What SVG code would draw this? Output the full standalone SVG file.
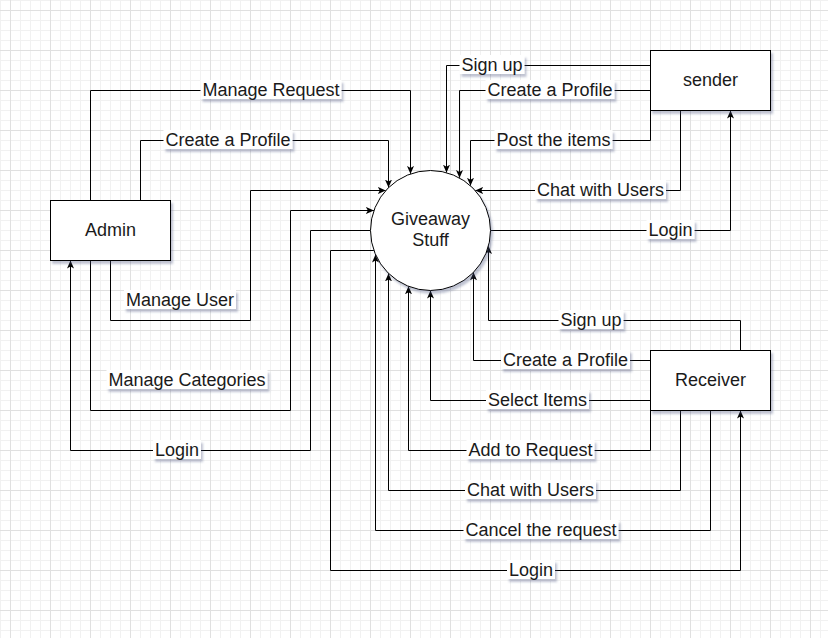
<svg xmlns="http://www.w3.org/2000/svg" width="828" height="638" viewBox="0 0 828 638">
<defs>
<pattern id="grid" x="10" y="10" width="40" height="40" patternUnits="userSpaceOnUse">
<path d="M10.5,0V40M20.5,0V40M30.5,0V40M0,10.5H40M0,20.5H40M0,30.5H40" stroke="#f1f1f1" stroke-width="1" fill="none"/>
<path d="M0.5,0V40M0,0.5H40" stroke="#e0e0e0" stroke-width="1" fill="none"/>
</pattern>
<marker id="arr" viewBox="0 0 8 8" refX="8" refY="4" markerWidth="8" markerHeight="8" markerUnits="userSpaceOnUse" orient="auto">
<path d="M0,0.5 L8,4 L0,7.5 L2,4 Z" fill="#000"/>
</marker>
<filter id="shadow" x="-10%" y="-20%" width="130%" height="160%">
<feDropShadow dx="2" dy="3" stdDeviation="1.2" flood-color="#4a5680" flood-opacity="0.35"/>
</filter>
<style>
.edge{fill:none;stroke:#000;stroke-width:1;marker-end:url(#arr)}
.lbg{fill:#fff;filter:url(#shadow)}
.lt{font-family:"Liberation Sans",Arial,sans-serif;font-size:18px;fill:#1a1a1a;text-anchor:middle}
.node{fill:#fff;stroke:#000;stroke-width:1;filter:url(#shadow)}
</style>
</defs>
<rect width="828" height="638" fill="#fff"/>
<rect width="828" height="638" fill="url(#grid)"/>

<g id="connectors">
<g id="e-manage-request">
<path class="edge" d="M90.5,200.5V90.5H410.5V173.9"/>
<rect class="lbg" x="200.5" y="80" width="141" height="19"/>
<text class="lt" x="271" y="95.5">Manage Request</text>
</g>
<g id="e-admin-create-profile">
<path class="edge" d="M140.5,200.5V140.5H388.5V187.6"/>
<rect class="lbg" x="163.5" y="130" width="129" height="19"/>
<text class="lt" x="228" y="145.5">Create a Profile</text>
</g>
<g id="e-manage-user">
<path class="edge" d="M110.5,260.5V320.5H250.5V190.5H385.8"/>
<rect class="lbg" x="124" y="290" width="112" height="19"/>
<text class="lt" x="180" y="305.5">Manage User</text>
</g>
<g id="e-manage-categories">
<path class="edge" d="M90.5,260.5V410.5H290.5V210.5H373.9"/>
<rect class="lbg" x="106.5" y="370" width="161" height="19"/>
<text class="lt" x="187" y="385.5">Manage Categories</text>
</g>
<g id="e-admin-login">
<path class="edge" d="M370.5,230.5H310.5V450.5H70.5V260.5"/>
<rect class="lbg" x="153" y="440" width="48" height="19"/>
<text class="lt" x="177" y="455.5">Login</text>
</g>
<g id="e-sender-signup">
<path class="edge" d="M650.5,65.5H446.5V172.7"/>
<rect class="lbg" x="459.5" y="55" width="65" height="19"/>
<text class="lt" x="492" y="70.5">Sign up</text>
</g>
<g id="e-sender-create-profile">
<path class="edge" d="M650.5,90.5H459.5V178"/>
<rect class="lbg" x="485.5" y="80" width="129" height="19"/>
<text class="lt" x="550" y="95.5">Create a Profile</text>
</g>
<g id="e-post-items">
<path class="edge" d="M650.5,110.5V140.5H470.5V185.8"/>
<rect class="lbg" x="494.5" y="130" width="118" height="19"/>
<text class="lt" x="553.5" y="145.5">Post the items</text>
</g>
<g id="e-sender-chat">
<path class="edge" d="M680.5,110.5V190.5H475.2"/>
<rect class="lbg" x="535" y="180" width="131" height="19"/>
<text class="lt" x="600.5" y="195.5">Chat with Users</text>
</g>
<g id="e-sender-login">
<path class="edge" d="M490.5,230.5H730.5V110.5"/>
<rect class="lbg" x="646.5" y="220" width="48" height="19"/>
<text class="lt" x="670.5" y="235.5">Login</text>
</g>
<g id="e-receiver-signup">
<path class="edge" d="M740.5,350.5V320.5H488.5V245.9"/>
<rect class="lbg" x="558.5" y="310" width="65" height="19"/>
<text class="lt" x="591" y="325.5">Sign up</text>
</g>
<g id="e-receiver-create-profile">
<path class="edge" d="M650.5,360.5H473.5V272.3"/>
<rect class="lbg" x="501" y="350" width="129" height="19"/>
<text class="lt" x="565.5" y="365.5">Create a Profile</text>
</g>
<g id="e-select-items">
<path class="edge" d="M650.5,400.5H430.5V290.5"/>
<rect class="lbg" x="486" y="390" width="103" height="19"/>
<text class="lt" x="537.5" y="405.5">Select Items</text>
</g>
<g id="e-add-request">
<path class="edge" d="M650.5,410.5V450.5H408.5V286.3"/>
<rect class="lbg" x="466.5" y="440" width="128" height="19"/>
<text class="lt" x="530.5" y="455.5">Add to Request</text>
</g>
<g id="e-receiver-chat">
<path class="edge" d="M680.5,410.5V490.5H388.5V273.4"/>
<rect class="lbg" x="465" y="480" width="131" height="19"/>
<text class="lt" x="530.5" y="495.5">Chat with Users</text>
</g>
<g id="e-cancel-request">
<path class="edge" d="M710.5,410.5V530.5H375.5V254.5"/>
<rect class="lbg" x="463.5" y="520" width="155" height="19"/>
<text class="lt" x="541" y="535.5">Cancel the request</text>
</g>
<g id="e-receiver-login">
<path class="edge" d="M373.9,250.5H330.5V570.5H740.5V410.5"/>
<rect class="lbg" x="507" y="560" width="48" height="19"/>
<text class="lt" x="531" y="575.5">Login</text>
</g>
</g>

<g id="admin">
<rect class="node" x="50.5" y="200.5" width="120" height="60"/>
<text class="lt" x="110.5" y="235.5">Admin</text>
</g>
<g id="giveaway-stuff">
<circle class="node" cx="430.5" cy="230.5" r="60"/>
<text class="lt" x="430.5" y="224.5">Giveaway</text>
<text class="lt" x="430.5" y="245.5">Stuff</text>
</g>
<g id="sender">
<rect class="node" x="650.5" y="50.5" width="120" height="60"/>
<text class="lt" x="710.5" y="85.5">sender</text>
</g>
<g id="receiver">
<rect class="node" x="650.5" y="350.5" width="120" height="60"/>
<text class="lt" x="710.5" y="385.5">Receiver</text>
</g>
</svg>
